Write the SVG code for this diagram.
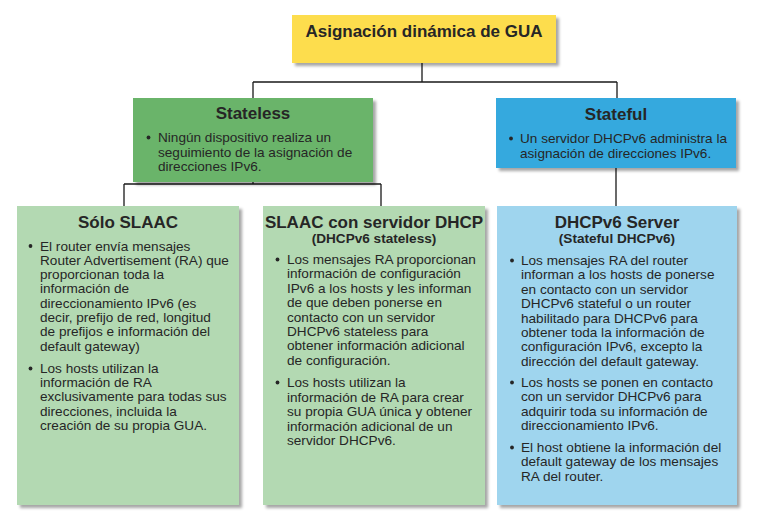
<svg xmlns="http://www.w3.org/2000/svg" width="760" height="528" viewBox="0 0 760 528">
  <defs>
    <filter id="shadow" x="-10%" y="-10%" width="130%" height="130%">
      <feDropShadow dx="3" dy="3" stdDeviation="1.8" flood-color="#000" flood-opacity="0.35"/>
    </filter>
    <style>
      .box { filter: url(#shadow); }
      .title { font-family: "Liberation Sans", Arial, sans-serif; font-weight: bold; font-size: 17px; fill: #262626; text-anchor: middle; }
      .sub { font-family: "Liberation Sans", Arial, sans-serif; font-weight: bold; font-size: 13.6px; fill: #262626; text-anchor: middle; }
      .body { font-family: "Liberation Sans", Arial, sans-serif; font-size: 13.6px; fill: #262626; }
      .dot { fill: #262626; }
      .conn { stroke: #1a1a1a; stroke-width: 1.3; fill: none; }
    </style>
  </defs>

  <rect width="760" height="528" fill="#ffffff"/>

  <!-- connectors -->
  <g id="connectors">
    <path class="conn" d="M422 63 V82 M253 82 H617 M253 82 V98 M617 82 V98"/>
    <path class="conn" d="M253 182 V184 M124 184 H381 M124 184 V206 M381 184 V206"/>
    <path class="conn" d="M616 168 V206"/>
  </g>

  <!-- root -->
  <g id="root">
    <rect class="box" x="292" y="15" width="264" height="48" fill="#FDDD4E"/>
    <text class="title" x="424" y="37">Asignación dinámica de GUA</text>
  </g>

  <!-- stateless -->
  <g id="stateless">
    <rect class="box" x="133" y="98" width="240" height="84" fill="#6AB46A"/>
    <text class="title" x="253" y="119">Stateless</text>
    <circle class="dot" cx="148.5" cy="137.5" r="1.9"/>
    <text class="body">
      <tspan x="158" y="142">Ningún dispositivo realiza un</tspan>
      <tspan x="158" y="156.5">seguimiento de la asignación de</tspan>
      <tspan x="158" y="171">direcciones IPv6.</tspan>
    </text>
  </g>

  <!-- stateful -->
  <g id="stateful">
    <rect class="box" x="496" y="98" width="240" height="70" fill="#34A9DE"/>
    <text class="title" x="616" y="120">Stateful</text>
    <circle class="dot" cx="511" cy="138.5" r="1.9"/>
    <text class="body">
      <tspan x="520" y="143">Un servidor DHCPv6 administra la</tspan>
      <tspan x="520" y="157.5">asignación de direcciones IPv6.</tspan>
    </text>
  </g>

  <!-- SLAAC only -->
  <g id="slaac">
    <rect class="box" x="17" y="206" width="222" height="299" fill="#B3D9B2"/>
    <text class="title" x="128" y="228">Sólo SLAAC</text>
    <circle class="dot" cx="30.5" cy="246" r="1.9"/>
    <text class="body">
      <tspan x="40" y="250.5">El router envía mensajes</tspan>
      <tspan x="40" y="264.8">Router Advertisement (RA) que</tspan>
      <tspan x="40" y="279.1">proporcionan toda la</tspan>
      <tspan x="40" y="293.4">información de</tspan>
      <tspan x="40" y="307.7">direccionamiento IPv6 (es</tspan>
      <tspan x="40" y="322">decir, prefijo de red, longitud</tspan>
      <tspan x="40" y="336.3">de prefijos e información del</tspan>
      <tspan x="40" y="350.6">default gateway)</tspan>
    </text>
    <circle class="dot" cx="30.5" cy="368.5" r="1.9"/>
    <text class="body">
      <tspan x="40" y="373">Los hosts utilizan la</tspan>
      <tspan x="40" y="387.2">información de RA</tspan>
      <tspan x="40" y="401.4">exclusivamente para todas sus</tspan>
      <tspan x="40" y="415.6">direcciones, incluida la</tspan>
      <tspan x="40" y="429.8">creación de su propia GUA.</tspan>
    </text>
  </g>

  <!-- SLAAC with DHCPv6 server -->
  <g id="slaac-dhcp">
    <rect class="box" x="263" y="206" width="222" height="299" fill="#B3D9B2"/>
    <text class="title" x="374" y="228">SLAAC con servidor DHCP</text>
    <text class="sub" x="374" y="243">(DHCPv6 stateless)</text>
    <circle class="dot" cx="277.5" cy="259.5" r="1.9"/>
    <text class="body">
      <tspan x="287" y="264">Los mensajes RA proporcionan</tspan>
      <tspan x="287" y="278.4">información de configuración</tspan>
      <tspan x="287" y="292.8">IPv6 a los hosts y les informan</tspan>
      <tspan x="287" y="307.2">de que deben ponerse en</tspan>
      <tspan x="287" y="321.6">contacto con un servidor</tspan>
      <tspan x="287" y="336">DHCPv6 stateless para</tspan>
      <tspan x="287" y="350.4">obtener información adicional</tspan>
      <tspan x="287" y="364.8">de configuración.</tspan>
    </text>
    <circle class="dot" cx="277.5" cy="382.5" r="1.9"/>
    <text class="body">
      <tspan x="287" y="387">Los hosts utilizan la</tspan>
      <tspan x="287" y="401.5">información de RA para crear</tspan>
      <tspan x="287" y="416">su propia GUA única y obtener</tspan>
      <tspan x="287" y="430.5">información adicional de un</tspan>
      <tspan x="287" y="445">servidor DHCPv6.</tspan>
    </text>
  </g>

  <!-- DHCPv6 server -->
  <g id="dhcpv6-server">
    <rect class="box" x="497" y="206" width="240" height="299" fill="#9FD5EE"/>
    <text class="title" x="617" y="228">DHCPv6 Server</text>
    <text class="sub" x="617" y="243">(Stateful DHCPv6)</text>
    <circle class="dot" cx="512" cy="260.5" r="1.9"/>
    <text class="body">
      <tspan x="521" y="265">Los mensajes RA del router</tspan>
      <tspan x="521" y="279.4">informan a los hosts de ponerse</tspan>
      <tspan x="521" y="293.8">en contacto con un servidor</tspan>
      <tspan x="521" y="308.2">DHCPv6 stateful o un router</tspan>
      <tspan x="521" y="322.6">habilitado para DHCPv6 para</tspan>
      <tspan x="521" y="337">obtener toda la información de</tspan>
      <tspan x="521" y="351.4">configuración IPv6, excepto la</tspan>
      <tspan x="521" y="365.8">dirección del default gateway.</tspan>
    </text>
    <circle class="dot" cx="512" cy="382.5" r="1.9"/>
    <text class="body">
      <tspan x="521" y="387">Los hosts se ponen en contacto</tspan>
      <tspan x="521" y="401.4">con un servidor DHCPv6 para</tspan>
      <tspan x="521" y="415.8">adquirir toda su información de</tspan>
      <tspan x="521" y="430.2">direccionamiento IPv6.</tspan>
    </text>
    <circle class="dot" cx="512" cy="447.5" r="1.9"/>
    <text class="body">
      <tspan x="521" y="452">El host obtiene la información del</tspan>
      <tspan x="521" y="466.4">default gateway de los mensajes</tspan>
      <tspan x="521" y="480.8">RA del router.</tspan>
    </text>
  </g>
</svg>
